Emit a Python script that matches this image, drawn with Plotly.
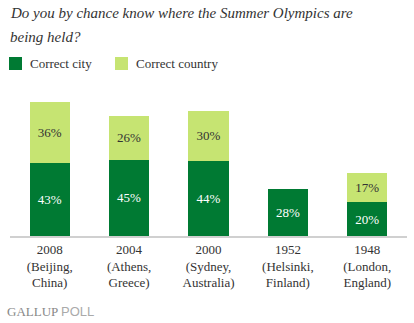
import plotly.graph_objects as go

# Survey results: share who knew the host city / only the host country
games = ["2008<br>(Beijing,<br>China)", "2004<br>(Athens,<br>Greece)",
         "2000<br>(Sydney,<br>Australia)", "1952<br>(Helsinki,<br>Finland)",
         "1948<br>(London,<br>England)"]
correct_city = [43, 45, 44, 28, 20]
correct_country = [36, 26, 30, None, 17]
series_names = ["Correct city", "Correct country"]

DARK = "#007a33"
LIGHT = "#c6e472"
SERIF = "Liberation Serif"
INK = "#333333"

W, H = 414, 323
L, R, T, B = 10, 7, 100, 87
PW, PH = W - L - R, H - T - B


def px_x(x):
    return (x - L) / PW


def px_y(y):
    return (H - B - y) / PH


fig = go.Figure()
fig.add_trace(go.Bar(
    x=games, y=correct_city, name=series_names[0],
    marker=dict(color=DARK, line=dict(width=0)),
    texttemplate="%{y}%", textposition="inside", insidetextanchor="middle",
    textangle=0, textfont=dict(family=SERIF, size=13, color="white"),
))
fig.add_trace(go.Bar(
    x=games, y=correct_country, name=series_names[1],
    marker=dict(color=LIGHT, line=dict(width=0)),
    texttemplate="%{y}%", textposition="inside", insidetextanchor="middle",
    textangle=0, textfont=dict(family=SERIF, size=13, color=INK),
))

fig.update_layout(
    width=W, height=H,
    margin=dict(l=L, r=R, t=T, b=B),
    barmode="stack", bargap=0.494,
    plot_bgcolor="white", paper_bgcolor="white",
    font=dict(family=SERIF, size=13, color=INK),
    showlegend=False,
    xaxis=dict(
        showline=True, linecolor="#d0d0d0", linewidth=2,
        ticks="", showgrid=False, zeroline=False,
        tickfont=dict(family=SERIF, size=13, color=INK),
    ),
    yaxis=dict(range=[0, 80.2], visible=False, showgrid=False, zeroline=False),
    uniformtext=dict(mode=False),
)

# Question text, two lines (baselines in pixels)
for txt, base in [("Do you by chance know where the Summer Olympics are", 19.5),
                  ("being held?", 42.5)]:
    fig.add_annotation(
        text=f"<i>{txt}</i>", xref="paper", yref="paper",
        x=px_x(8), y=px_y(base + 4), xanchor="left", yanchor="bottom",
        showarrow=False, font=dict(family=SERIF, size=15, color=INK),
    )

# Legend: colour swatch followed by the series name
for name, colr, sx in [(series_names[0], DARK, 9), (series_names[1], LIGHT, 115)]:
    fig.add_shape(
        type="rect", xref="paper", yref="paper",
        x0=px_x(sx), x1=px_x(sx + 13), y0=px_y(70), y1=px_y(57),
        fillcolor=colr, line=dict(width=0),
    )
    fig.add_annotation(
        text=name, xref="paper", yref="paper",
        x=px_x(sx + 19), y=px_y(63.5), xanchor="left", yanchor="middle",
        showarrow=False, font=dict(family=SERIF, size=13, color=INK),
    )

# Source mark
fig.add_annotation(
    text="<span style='font-family:Liberation Serif'>GALLUP</span> "
         "<span style='font-family:Liberation Sans;color:#aaaaaa'>POLL</span>",
    xref="paper", yref="paper", x=px_x(5), y=px_y(321),
    xanchor="left", yanchor="bottom", showarrow=False,
    font=dict(size=13, color="#888888"),
)

fig.write_html("out.html")
